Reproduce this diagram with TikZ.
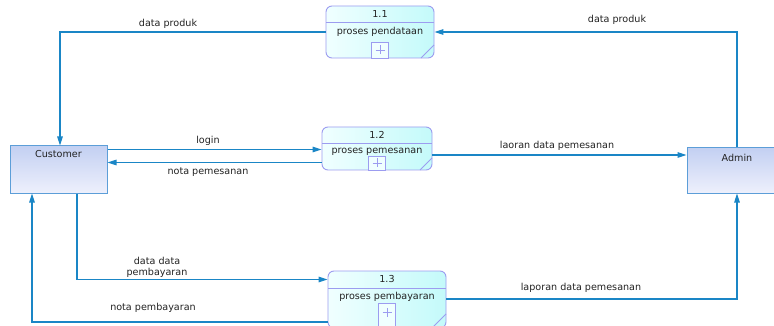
\documentclass[tikz,border=0pt]{standalone}
\usepackage{fontspec}
\setmainfont{DejaVu Sans}
\usetikzlibrary{arrows.meta}
\definecolor{flow}{HTML}{1A86C6}
\definecolor{procline}{HTML}{9C9CF0}
\definecolor{procA}{HTML}{F0FFFF}
\definecolor{procB}{HTML}{C4FAFA}
\definecolor{entline}{HTML}{5C9ED8}
\definecolor{entA}{HTML}{C3D0F2}
\definecolor{entB}{HTML}{EEF0FC}
\definecolor{ink}{HTML}{222222}
\begin{document}
\begin{tikzpicture}[x=1pt,y=-1pt,
  every node/.style={font=\fontsize{9.6}{11}\selectfont, text=ink},
  procbox/.style={draw=procline, line width=0.9pt, rounded corners=6pt,
    left color=procA, right color=procB, inner sep=0pt},
  procrule/.style={draw=procline, line width=0.9pt},
  plusbox/.style={draw=procline, line width=0.9pt, fill=procA, inner sep=0pt,
    minimum width=17pt, minimum height=16pt, anchor=south},
  entity/.style={draw=entline, line width=1pt,
    top color=entA, bottom color=entB, inner sep=0pt},
  flowline/.style={draw=flow, line width=1.1pt},
  flowarrow/.style={flowline, -{Triangle[length=9pt,width=5.5pt]}},
  lbl/.style={inner sep=1pt, align=center}
]
\useasboundingbox (0,0) rectangle (774,326);
\fill[white] (0,0) rectangle (774,326);

% external entities
\node[entity, minimum width=97pt, minimum height=47pt] (cust) at (58.5,169.5) {};
\node at (58.5,154) {Customer};
\node[entity, minimum width=100pt, minimum height=45pt] (admin) at (737,170.5) {};
\node at (737,158) {Admin};

% process 1.1
\node[procbox, minimum width=108pt, minimum height=52pt] (p1) at (380,32) {};
\draw[procrule] (326,22) -- (434,22);
\draw[procrule] (421,58) -- (434,45);
\node[plusbox] (p1plus) at (p1.south) {};
\draw[procrule, line width=0.7pt] (p1plus.center) ++(-4.5,0) -- ++(9,0)
  (p1plus.center) ++(0,-4.5) -- ++(0,9);
\node at (380,14.5) {1.1};
\node at (380,32) {proses pendataan};

% process 1.2
\node[procbox, minimum width=110pt, minimum height=43pt] (p2) at (377,148.5) {};
\draw[procrule] (322,143) -- (432,143);
\draw[procrule] (420,170) -- (432,158);
\node[plusbox, minimum height=14pt] (p2plus) at (p2.south) {};
\draw[procrule, line width=0.7pt] (p2plus.center) ++(-4.5,0) -- ++(9,0)
  (p2plus.center) ++(0,-4.5) -- ++(0,9);
\node at (377,135) {1.2};
\node at (377,151.5) {proses pemesanan};

% process 1.3
\node[procbox, minimum width=118pt, minimum height=57pt] (p3) at (387,299.5) {};
\draw[procrule] (328,288) -- (446,288);
\draw[procrule] (432,328) -- (446,314);
\node[plusbox, minimum height=25pt] (p3plus) at (p3.south) {};
\draw[procrule, line width=0.7pt] (387,312.5) ++(-4.5,0) -- ++(9,0)
  (387,312.5) ++(0,-4.5) -- ++(0,9);
\node at (387,279.5) {1.3};
\node at (387,297) {proses pembayaran};

% data flows
\draw[flowarrow] (p1.west) -| (cust.north -| 60,0);
\node[lbl] at (168,24) {data produk};

\draw[flowarrow] (admin.north) |- (p1.east);
\node[lbl] at (617,20) {data produk};

\draw[flowarrow] (cust.east |- 0,149.5) -- (p2.west |- 0,149.5);
\node[lbl] at (208,141) {login};

\draw[flowarrow] (p2.west |- 0,162.5) -- (cust.east |- 0,162.5);
\node[lbl] at (208,172) {nota pemesanan};

\draw[flowarrow] (p2.east |- 0,155) -- (admin.west |- 0,155);
\node[lbl] at (557,146) {laoran data pemesanan};

\draw[flowarrow] (cust.south -| 77,0) |- (p3.west |- 0,279.5);
\node[lbl] at (157,267) {data data\\pembayaran};

\draw[flowarrow] (p3.west |- 0,322) -| (cust.south -| 32,0);
\node[lbl] at (153,308) {nota pembayaran};

\draw[flowarrow] (p3.east |- 0,299) -| (admin.south);
\node[lbl] at (581,288) {laporan data pemesanan};
\end{tikzpicture}
\end{document}
